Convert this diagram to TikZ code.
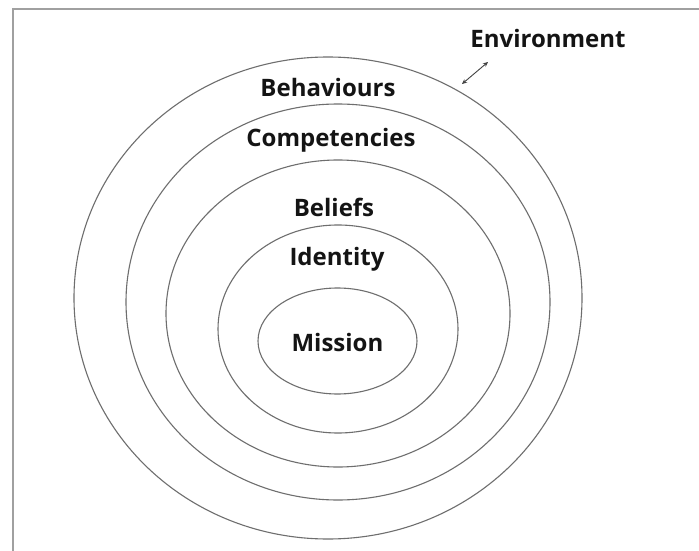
\documentclass[tikz,border=0pt]{standalone}
\usepackage{fontspec}
\setmainfont{Open Sans}
\usetikzlibrary{arrows.meta}
\definecolor{ringgray}{HTML}{6E6E6E}
\definecolor{framegray}{HTML}{A0A0A0}
\definecolor{txt}{HTML}{141414}
\tikzset{
  ring/.style={draw=ringgray, line width=1.1pt},
  lbl/.style={font=\fontsize{24}{27}\selectfont\bfseries, text=txt, inner sep=0pt, anchor=center},
}
\begin{document}
\begin{tikzpicture}[x=1pt,y=-1pt]
\useasboundingbox (0,0) rectangle (699,551);
\fill[white] (0,0) rectangle (699,551);
% frame edges
\draw[framegray, line width=1.6pt] (13,551) -- (13,9) -- (699,9);
% rings
\draw[ring] (328,298) ellipse [x radius=254, y radius=241];
\draw[ring] (338,302) ellipse [x radius=212, y radius=198];
\draw[ring] (338,313.5) ellipse [x radius=172, y radius=153.5];
\draw[ring] (338,329) ellipse [x radius=120, y radius=104];
\draw[ring] (337.5,341) ellipse [x radius=79.5, y radius=53];
% labels
\node[lbl] (env) at (548,39) {Environment};
\node[lbl] (beh) at (328,87) {Behaviours};
\node[lbl] (comp) at (331,140) {Competencies};
\node[lbl] (bel) at (334,207) {Beliefs};
\node[lbl] (ide) at (337,259) {Identity};
\node[lbl] (mis) at (337.5,342) {Mission};
% arrow
\coordinate (a1) at (462,84);
\coordinate (a2) at (488,62);
\draw[ringgray!60!black, line width=0.9pt, {Stealth[length=5pt,width=4.5pt]}-{Stealth[length=5pt,width=4.5pt]}] (a1) -- (a2);
\end{tikzpicture}
\end{document}
